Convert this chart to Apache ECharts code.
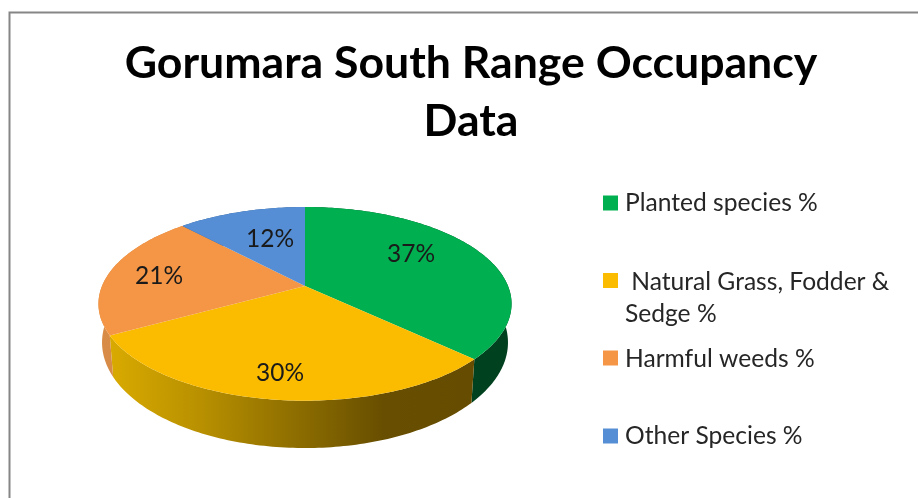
<!DOCTYPE html>
<html>
<head>
<meta charset="utf-8">
<title>Gorumara South Range Occupancy Data</title>
<script src="https://cdn.jsdelivr.net/npm/echarts@6/dist/echarts.min.js"></script>
<style>
  html, body { margin: 0; padding: 0; background: #fff; }
  #chart { width: 918px; height: 498px; }
</style>
</head>
<body>
<div id="chart"></div>
<script>
// chart data
const titleText = "Gorumara South Range Occupancy\nData";
const categories = ["Planted species %", " Natural Grass, Fodder &\nSedge %", "Harmful weeds %", "Other Species %"];
const shares = [37, 30, 21, 12];

// look of the slices
const topColors = ["#00b050", "#fbbc00", "#f49646", "#558ed5"];
const wallStops = [
  ["#004d25", "#00401f"],
  ["#d9aa00", "#b89000", "#8f6f00", "#684e00", "#664c00"],
  ["#d88c48", "#d08543"],
  ["#2f5a90", "#2f5a90"],
];
const labelSpots = [[411, 254], [280, 373], [159, 276], [270, 239]];
const legendRows = [[203, 201], [280.5, 280], [358, 357], [436, 434]];

const fontName = "Lato, Carlito, sans-serif";
const total = shares.reduce((a, b) => a + b, 0);

// the disc is a circle seen at an angle, so the front is bigger than the back
const K = 0.1843;
const topFace = { cx: 305, cy: 286, bx: 203, by: 93.56 };
const baseFace = { cx: 305, cy: 323, bx: 199.5, by: 102 };

function project(face, deg) {
  const t = deg * Math.PI / 180;
  const u = Math.sin(t), v = -Math.cos(t);
  const d = 1 - K * v;
  return [face.cx + face.bx * u / d, face.cy + face.by * v / d];
}

function arc(face, from, to) {
  const pts = [];
  const n = Math.max(2, Math.ceil(to - from));
  for (let i = 0; i <= n; i++) pts.push(project(face, from + (to - from) * i / n));
  return pts;
}

function sliceRange(idx) {
  let before = 0;
  for (let i = 0; i < idx; i++) before += shares[i];
  return [before / total * 360, (before + shares[idx]) / total * 360];
}

function renderWall(params, api) {
  const [a, b] = sliceRange(params.dataIndex);
  const pts = arc(topFace, a, b).concat(arc(baseFace, a, b).reverse());
  const stops = wallStops[params.dataIndex];
  return {
    type: "polygon",
    shape: { points: pts },
    style: {
      fill: new echarts.graphic.LinearGradient(0, 0, 1, 0,
        stops.map((c, i) => ({ offset: i / (stops.length - 1), color: c }))),
    },
  };
}

function renderTop(params, api) {
  const i = params.dataIndex;
  const [a, b] = sliceRange(i);
  return {
    type: "group",
    children: [
      {
        type: "polygon",
        shape: { points: [[topFace.cx, topFace.cy]].concat(arc(topFace, a, b)) },
        style: { fill: topColors[i] },
      },
      {
        type: "text",
        z2: 10,
        x: labelSpots[i][0],
        y: labelSpots[i][1],
        style: {
          text: api.value(0) + "%",
          fill: "#1a1a1a",
          font: "24.5px " + fontName,
          align: "center",
          verticalAlign: "middle",
        },
      },
    ],
  };
}

// legend by hand, the rows are not evenly spaced in the original
const legendGraphics = [];
categories.forEach((name, i) => {
  legendGraphics.push({
    type: "rect",
    shape: { x: 603, y: legendRows[i][0] - 7.5, width: 15, height: 15 },
    style: { fill: topColors[i] },
  });
  legendGraphics.push({
    type: "text",
    x: 625,
    y: legendRows[i][1] - 14,
    style: {
      text: name,
      fill: "#262626",
      font: "24.6px " + fontName,
      lineHeight: 32,
      verticalAlign: "top",
    },
  });
});

const chart = echarts.init(document.getElementById("chart"), null, { renderer: "canvas" });
chart.setOption({
  animation: false,
  backgroundColor: "#fff",
  title: {
    text: titleText,
    left: 466,
    top: 30,
    textAlign: "center",
    textStyle: {
      fontFamily: fontName,
      fontWeight: "bold",
      fontSize: 44.6,
      lineHeight: 58,
      color: "#000",
    },
  },
  graphic: [
    // frame, only top and left of it are inside the picture
    { type: "polyline", shape: { points: [[9.5, 498], [9.5, 12.5], [918, 12.5]] }, style: { stroke: "#868686", lineWidth: 2, fill: null } },
  ].concat(legendGraphics),
  series: [
    {
      type: "custom",
      name: "wall",
      coordinateSystem: "none",
      silent: true,
      z: 1,
      data: shares,
      renderItem: renderWall,
    },
    {
      type: "custom",
      name: "share",
      coordinateSystem: "none",
      silent: true,
      z: 2,
      data: shares,
      renderItem: renderTop,
    },
  ],
});
</script>
</body>
</html>
